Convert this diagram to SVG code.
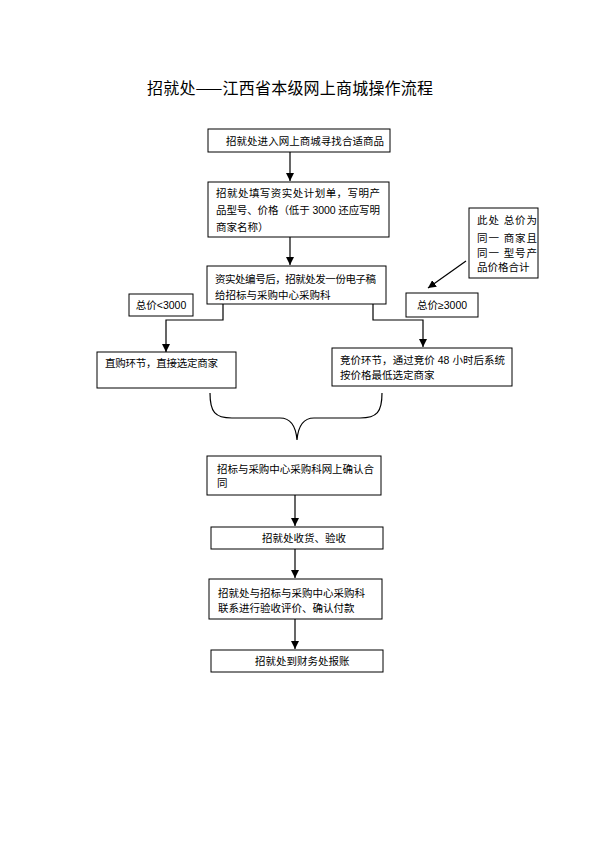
<svg xmlns="http://www.w3.org/2000/svg" width="596" height="843" viewBox="0 0 596 843">
<defs>
<style>
.bg{fill:#fff}
.box{fill:#fff;stroke:#000;stroke-width:1}
.t{font-family:"Liberation Sans","Noto Sans CJK SC",sans-serif;font-size:10.5px;fill:#000}
.title{font-family:"Noto Sans CJK SC",sans-serif;font-size:16px;fill:#000}
.c{fill:none;stroke:#000;stroke-width:1.2}
</style>
<marker id="ah" markerUnits="userSpaceOnUse" markerWidth="8" markerHeight="8" refX="8" refY="4" orient="auto">
<path d="M0,0 L8,4 L0,8 z" fill="#000"/>
</marker>
</defs>
<rect class="bg" x="0" y="0" width="596" height="843"/>
<text class="title" x="147" y="94" textLength="286">招就处——江西省本级网上商城操作流程</text>

<g id="connectors">
<path class="c" d="M290,152 V181" marker-end="url(#ah)"/>
<path class="c" d="M290,237 V265" marker-end="url(#ah)"/>
<path class="c" d="M223,304 V320 H166 V352" marker-end="url(#ah)"/>
<path class="c" d="M373,304 V320 H423 V347" marker-end="url(#ah)"/>
<path class="c" d="M466,261 L428,288" marker-end="url(#ah)"/>
<path class="c" d="M210,393 C210,412 215,418 232,418 L280,418 C292,418 296,428 297,440 C298,428 302,418 314,418 L360,418 C377,418 382,412 382,393"/>
<path class="c" d="M295,495 V526" marker-end="url(#ah)"/>
<path class="c" d="M295,549 V578" marker-end="url(#ah)"/>
<path class="c" d="M295,619 V649" marker-end="url(#ah)"/>
</g>

<g id="n1">
<rect class="box" x="208" y="129" width="182" height="23"/>
<text class="t" x="226" y="145" textLength="158">招就处进入网上商城寻找合适商品</text>
</g>
<g id="n2">
<rect class="box" x="208" y="182" width="181" height="55"/>
<text class="t" x="216" y="197" textLength="164">招就处填写资实处计划单，写明产</text>
<text class="t" x="216" y="214" textLength="164">品型号、价格（低于 3000 还应写明</text>
<text class="t" x="216" y="231">商家名称）</text>
</g>
<g id="n3">
<rect class="box" x="207" y="266" width="179" height="38"/>
<text class="t" x="215" y="283" textLength="161">资实处编号后，招就处发一份电子稿</text>
<text class="t" x="215" y="299">给招标与采购中心采购科</text>
</g>
<g id="lbl-lt">
<rect class="box" x="129" y="294" width="64" height="22"/>
<text class="t" x="161" y="309" text-anchor="middle">总价&lt;3000</text>
</g>
<g id="lbl-ge">
<rect class="box" x="406" y="293" width="72" height="24"/>
<text class="t" x="442" y="309" text-anchor="middle">总价≥3000</text>
</g>
<g id="note">
<rect class="box" x="469" y="208" width="69" height="70"/>
<text class="t" x="477" y="224" textLength="60">此处  总价为</text>
<text class="t" x="477" y="242" textLength="60">同一  商家且</text>
<text class="t" x="477" y="257" textLength="60">同一  型号产</text>
<text class="t" x="477" y="271">品价格合计</text>
</g>
<g id="n4">
<rect class="box" x="97" y="352" width="139" height="36"/>
<text class="t" x="105" y="367" textLength="113">直购环节，直接选定商家</text>
</g>
<g id="n5">
<rect class="box" x="332" y="348" width="180" height="38"/>
<text class="t" x="340" y="364" textLength="165">竞价环节，通过竞价 48 小时后系统</text>
<text class="t" x="340" y="379">按价格最低选定商家</text>
</g>
<g id="n6">
<rect class="box" x="207" y="456" width="174" height="39"/>
<text class="t" x="217" y="473" textLength="157">招标与采购中心采购科网上确认合</text>
<text class="t" x="217" y="487">同</text>
</g>
<g id="n7">
<rect class="box" x="211" y="527" width="172" height="22"/>
<text class="t" x="262" y="542">招就处收货、验收</text>
</g>
<g id="n8">
<rect class="box" x="209" y="579" width="173" height="40"/>
<text class="t" x="218" y="597">招就处与招标与采购中心采购科</text>
<text class="t" x="218" y="612">联系进行验收评价、确认付款</text>
</g>
<g id="n9">
<rect class="box" x="211" y="650" width="172" height="22"/>
<text class="t" x="255" y="665">招就处到财务处报账</text>
</g>
</svg>
